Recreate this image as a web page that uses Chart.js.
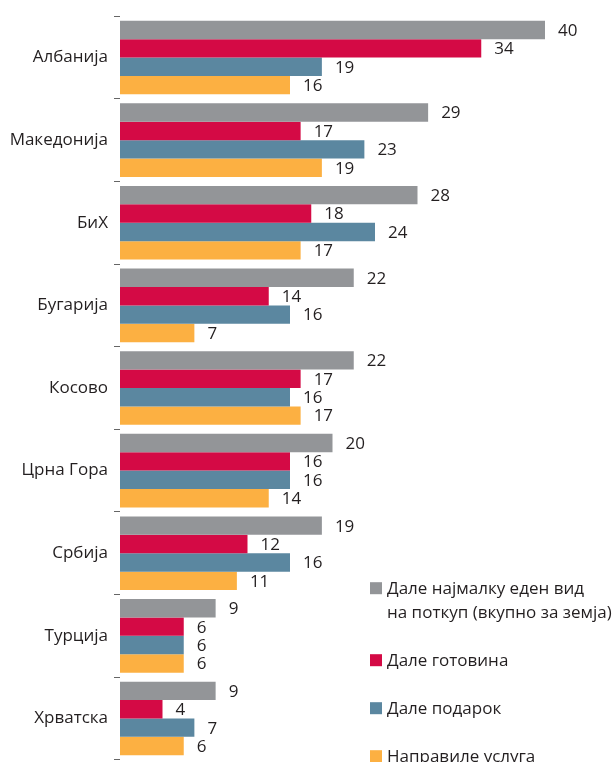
<!DOCTYPE html>
<html>
<head>
<meta charset="utf-8">
<script src="https://cdn.jsdelivr.net/npm/chart.js@4"></script>
<style>
  html, body { margin: 0; padding: 0; background: #fff; overflow: hidden; }
  #wrap { width: 613px; height: 776px; position: relative; }
</style>
</head>
<body>
<div id="wrap"><canvas id="grafik"></canvas></div>
<script>
const zemji = ['Албанија', 'Македонија', 'БиХ', 'Бугарија', 'Косово', 'Црна Гора', 'Србија', 'Турција', 'Хрватска'];

const najmalkuEden = [40, 29, 28, 22, 22, 20, 19, 9, 9];
const gotovina     = [34, 17, 18, 14, 17, 16, 12, 6, 4];
const podarok      = [19, 23, 24, 16, 16, 16, 16, 6, 7];
const usluga       = [16, 19, 17, 7, 17, 14, 11, 6, 6];

const legendaTekst = [
  ['Дале најмалку еден вид', 'на поткуп (вкупно за земја)'],
  ['Дале готовина'],
  ['Дале подарок'],
  ['Направиле услуга']
];

const FONT = '"Open Sans", "Noto Sans", sans-serif';
const TEXT_COLOR = '#231f20';

// etikete so vrednosti desno od sekoja lenta
const vrednostiPlugin = {
  id: 'vrednosti',
  afterDatasetsDraw(chart) {
    const ctx = chart.ctx;
    ctx.save();
    ctx.font = '17px ' + FONT;
    ctx.fillStyle = TEXT_COLOR;
    ctx.textAlign = 'left';
    ctx.textBaseline = 'middle';
    chart.data.datasets.forEach((ds, i) => {
      const meta = chart.getDatasetMeta(i);
      meta.data.forEach((bar, j) => {
        ctx.fillText(ds.data[j], bar.x + 13, bar.y + 1);
      });
    });
    ctx.restore();
  }
};

// legenda dolu desno, vo oblasta na grafikot
const legendaPlugin = {
  id: 'legenda',
  afterDraw(chart) {
    const ctx = chart.ctx;
    const area = chart.chartArea;
    const x = area.left + 250;
    let y = area.top + 572;
    ctx.save();
    ctx.font = '17px ' + FONT;
    ctx.textBaseline = 'middle';
    chart.data.datasets.forEach((ds, i) => {
      ctx.fillStyle = ds.backgroundColor;
      ctx.fillRect(x, y - 6, 12, 12);
      ctx.fillStyle = TEXT_COLOR;
      legendaTekst[i].forEach((linija, k) => {
        ctx.fillText(linija, x + 17, y + 1 + k * 24);
      });
      y += 48 + (legendaTekst[i].length - 1) * 24;
    });
    ctx.restore();
  }
};

new Chart(document.getElementById('grafik'), {
  type: 'bar',
  data: {
    labels: zemji,
    datasets: [
      { label: legendaTekst[0].join(' '), data: najmalkuEden, backgroundColor: '#939598' },
      { label: legendaTekst[1][0], data: gotovina, backgroundColor: '#d40a45' },
      { label: legendaTekst[2][0], data: podarok, backgroundColor: '#5b87a0' },
      { label: legendaTekst[3][0], data: usluga, backgroundColor: '#fcb042' }
    ]
  },
  options: {
    indexAxis: 'y',
    responsive: true,
    maintainAspectRatio: false,
    animation: false,
    layout: { padding: { top: 13, bottom: 13, left: 0, right: 0 } },
    datasets: {
      bar: { categoryPercentage: 0.89, barPercentage: 1.0, borderWidth: 0 }
    },
    plugins: {
      legend: { display: false },
      tooltip: { enabled: false }
    },
    scales: {
      x: { display: false, min: 0, max: 46.4 },
      y: {
        afterFit: (scale) => { scale.width = 120; },
        border: { display: false },
        grid: {
          offset: true,
          drawOnChartArea: false,
          drawTicks: true,
          tickLength: 6,
          color: '#666',
          lineWidth: 1
        },
        ticks: {
          padding: 6,
          color: TEXT_COLOR,
          font: { family: FONT, size: 17 }
        }
      }
    }
  },
  plugins: [vrednostiPlugin, legendaPlugin]
});
</script>
</body>
</html>
